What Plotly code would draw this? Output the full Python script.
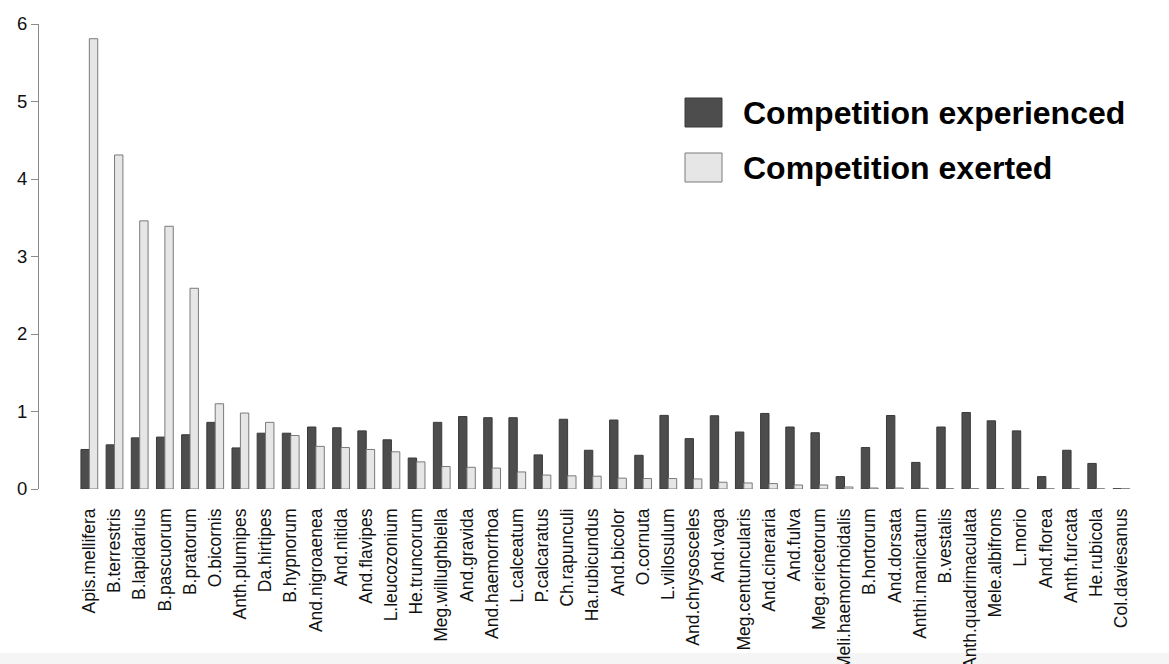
import plotly.graph_objects as go

# Species on the x axis
species = [
    "Apis.mellifera", "B.terrestris", "B.lapidarius", "B.pascuorum", "B.pratorum",
    "O.bicornis", "Anth.plumipes", "Da.hirtipes", "B.hypnorum", "And.nigroaenea",
    "And.nitida", "And.flavipes", "L.leucozonium", "He.truncorum", "Meg.willughbiella",
    "And.gravida", "And.haemorrhoa", "L.calceatum", "P.calcaratus", "Ch.rapunculi",
    "Ha.rubicundus", "And.bicolor", "O.cornuta", "L.villosulum", "And.chrysosceles",
    "And.vaga", "Meg.centuncularis", "And.cineraria", "And.fulva", "Meg.ericetorum",
    "Meli.haemorrhoidalis", "B.hortorum", "And.dorsata", "Anthi.manicatum", "B.vestalis",
    "Anth.quadrimaculata", "Mele.albifrons", "L.morio", "And.florea", "Anth.furcata",
    "He.rubicola", "Col.daviesanus",
]

experienced = [
    0.51, 0.57, 0.66, 0.67, 0.70, 0.86, 0.53, 0.72, 0.72, 0.80,
    0.79, 0.75, 0.635, 0.40, 0.86, 0.935, 0.92, 0.92, 0.44, 0.90,
    0.50, 0.89, 0.435, 0.95, 0.65, 0.945, 0.735, 0.975, 0.80, 0.726,
    0.16, 0.535, 0.948, 0.343, 0.80, 0.987, 0.88, 0.75, 0.16, 0.50,
    0.33, 0.003,
]

exerted = [
    5.81, 4.31, 3.46, 3.39, 2.59, 1.10, 0.98, 0.86, 0.69, 0.55,
    0.535, 0.51, 0.48, 0.35, 0.29, 0.28, 0.27, 0.22, 0.18, 0.17,
    0.165, 0.14, 0.135, 0.135, 0.13, 0.087, 0.078, 0.07, 0.052, 0.052,
    0.026, 0.013, 0.013, 0.009, 0.005, 0.005, 0.004, 0.004, 0.003, 0.003,
    0.003, 0.003,
]

y_ticks = [0, 1, 2, 3, 4, 5, 6]
legend_labels = ["Competition experienced", "Competition exerted"]
dark = "#4d4d4d"
light = "#e6e6e6"
edge = "#7a7a7a"

W, H = 1169, 664
L, R, T, B = 39, 34, 24, 175
FONT = "Liberation Sans, Arial, Helvetica, sans-serif"


def px_x(x):
    return (x - L) / (W - L - R)


def px_y(y):
    return (H - B - y) / (H - T - B)


fig = go.Figure()
fig.add_trace(go.Bar(x=list(range(len(species))), y=experienced, name=legend_labels[0],
                     marker=dict(color=dark, line=dict(color="#3a3a3a", width=1))))
fig.add_trace(go.Bar(x=list(range(len(species))), y=exerted, name=legend_labels[1],
                     marker=dict(color=light, line=dict(color=edge, width=1))))

# Hand-drawn legend, large boxes with bold labels
shapes = []
annotations = []
for i, (lab, col, ln) in enumerate(zip(legend_labels, [dark, light], ["#3a3a3a", edge])):
    y0 = 98 + i * 55
    shapes.append(dict(type="rect", xref="paper", yref="paper",
                       x0=px_x(685), x1=px_x(722), y0=px_y(y0 + 29), y1=px_y(y0),
                       fillcolor=col, line=dict(color=ln, width=1)))
    annotations.append(dict(xref="paper", yref="paper", x=px_x(741), y=px_y(y0 + 15),
                            text=f"<b>{lab}</b>", showarrow=False, xanchor="left",
                            yanchor="middle", font=dict(size=32, color="#000", family=FONT)))

# faint grey band along the bottom edge of the page
shapes.append(dict(type="rect", xref="paper", yref="paper", layer="below",
                   x0=px_x(0), x1=px_x(W), y0=px_y(H), y1=px_y(653),
                   fillcolor="#f5f5f5", line=dict(width=0)))

fig.update_layout(
    width=W, height=H,
    margin=dict(l=L, r=R, t=T, b=B, pad=0),
    paper_bgcolor="white", plot_bgcolor="white",
    barmode="group", bargap=1 / 3, bargroupgap=0,
    showlegend=False,
    font=dict(family=FONT, color="#111"),
    shapes=shapes, annotations=annotations,
    xaxis=dict(
        range=[-2.0, 41.54], automargin=False,
        tickmode="array", tickvals=list(range(len(species))), ticktext=species,
        tickangle=-90, tickfont=dict(size=17.5, color="#111"),
        showline=False, showgrid=False, zeroline=False, ticks="",
        ticklabelstandoff=15,
    ),
    yaxis=dict(
        range=[0, 6], tickmode="array", tickvals=y_ticks, automargin=False,
        tickfont=dict(size=18.5, color="#111"),
        showline=True, linecolor="#8a8a8a", linewidth=1,
        ticks="outside", ticklen=7, tickcolor="#8a8a8a",
        showgrid=False, zeroline=False,
    ),
)

fig.write_html("out.html")
